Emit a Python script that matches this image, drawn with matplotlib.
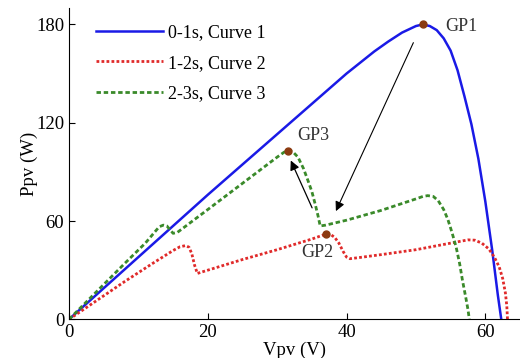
import matplotlib.pyplot as plt

plt.rcParams['font.family'] = ['Liberation Serif', 'DejaVu Serif']

# Curve 1 (0-1s)
v1 = [0, 5, 10, 15, 20, 25, 30, 35, 40, 44, 46, 48, 49, 50, 51, 52, 53, 54,
      55, 56, 57, 58, 59, 60, 61, 61.8, 62.3]
p1 = [0, 19, 38, 57, 76, 94.5, 113, 131.5, 150, 163.5, 169.5, 175, 177, 179,
      180, 179, 176.5, 171.5, 164, 152, 136, 119, 98, 72, 42, 15, 0]

# Curve 2 (1-2s)
v2 = [0, 4, 8, 12, 15, 16, 16.8, 17.3, 17.7, 18.1, 18.5, 19, 20, 25, 30, 35,
      36, 37, 37.7, 38.3, 38.9, 39.5, 40, 40.5, 42, 45, 50, 55, 57.5, 58.5,
      59.5, 60.5, 61.3, 62, 62.5, 62.9, 63.1, 63.2]
p2 = [0, 11.5, 23, 34, 42, 44.3, 45, 44, 40, 33, 28, 28.7, 30, 36.5, 42.5,
      49, 50.5, 52, 51.8, 50, 46.5, 41.5, 38, 37, 37.8, 39.5, 42.5, 46.5,
      48.5, 48.3, 46.5, 43, 38, 32, 25, 16, 8, 0]

# Curve 3 (2-3s)
v3 = [0, 4, 8, 11, 12, 13, 13.6, 14.1, 14.6, 15, 15.6, 20, 25, 30, 31, 31.5,
      32.2, 33, 33.8, 34.5, 35, 35.5, 35.9, 36.2, 37, 40, 45, 50, 51,
      51.7, 52.5, 53.2, 54, 54.6, 55.2, 55.8, 56.3, 56.7, 57.2, 57.5, 57.7]
p3 = [0, 17, 34, 46.5, 51.5, 56.5, 57.5, 57, 54.5, 52.5, 53, 67, 83, 99,
      102, 103, 102.5, 99, 92, 84, 78, 70, 63, 57, 57.5, 60.5, 66.5, 73.5,
      75, 75.5, 75, 72.5, 67, 61, 53, 44, 34, 24, 13, 6, 0]

# global peaks
gp_v = [51, 37, 31.5]
gp_p = [180, 52, 103]
gp_names = ['GP1', 'GP2', 'GP3']

fig = plt.figure(figsize=(5.2, 3.58), dpi=100)
ax = fig.add_axes([0.1327, 0.108, 0.8673, 0.8696])

ax.plot(v1, p1, color='#1a1ae6', lw=1.8, label='0-1s, Curve 1')
ax.plot(v2, p2, color='#e02a2a', lw=2.0, ls=(0, (1, 0.8)), label='1-2s, Curve 2')
ax.plot(v3, p3, color='#3a8a2a', lw=2.0, ls=(0, (1.6, 1.0)), label='2-3s, Curve 3')

ax.plot(gp_v, gp_p, 'o', color='#8b3a10', ms=5, zorder=5)

ax.text(54.2, 179, gp_names[0], fontsize=13, va='center', color='#333333')
ax.text(35.8, 40.5, gp_names[1], fontsize=13, va='center', ha='center', color='#333333')
ax.text(35.2, 112, gp_names[2], fontsize=13, va='center', ha='center', color='#333333')

# arrows
ax.annotate('', xy=(38.3, 64.5), xytext=(49.8, 170.4),
            arrowprops=dict(arrowstyle='-|>', color='black', lw=0.8,
                            mutation_scale=14))
ax.annotate('', xy=(31.8, 98.5), xytext=(35.2, 66.5),
            arrowprops=dict(arrowstyle='-|>', color='black', lw=0.9,
                            mutation_scale=14))

ax.set_xlim(0, 65)
ax.set_ylim(0, 190)
ax.set_xticks([0, 20, 40, 60])
ax.set_yticks([0, 60, 120, 180])
ax.tick_params(direction='in', length=4, labelsize=13.5, width=0.8)
ax.spines['top'].set_visible(False)
ax.spines['right'].set_visible(False)
ax.set_xlabel('Vpv (V)', fontsize=13.5, labelpad=0)
ax.set_ylabel('Ppv (W)', fontsize=13.5, labelpad=-1.5)

ax.legend(loc='upper left', bbox_to_anchor=(0.023, 1.0), frameon=False,
          fontsize=13, handlelength=3.75, labelspacing=0.75, handletextpad=0.25)

fig.savefig('out.png', dpi=100)
